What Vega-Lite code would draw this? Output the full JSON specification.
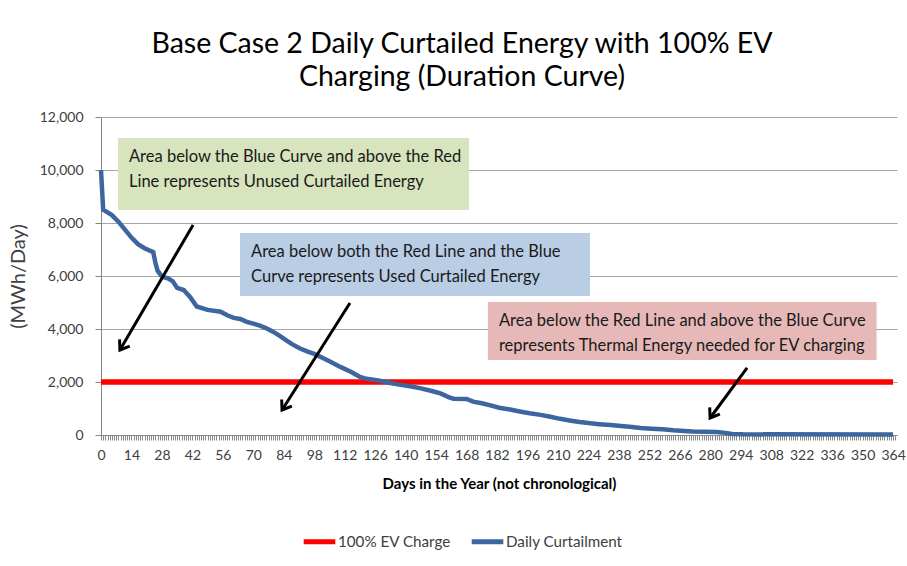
{
  "$schema": "https://vega.github.io/schema/vega-lite/v6.json",
  "width": 796,
  "height": 318,
  "autosize": "none",
  "padding": {"left": 101, "top": 117, "right": 10, "bottom": 131},
  "background": "white",
  "config": {"view": {"stroke": null}, "font": "Lato"},
  "title": {
    "text": ["Base Case 2 Daily Curtailed Energy with 100% EV", "Charging (Duration Curve)"],
    "fontSize": 28.5,
    "font": "Lato",
    "fontWeight": "normal",
    "color": "#000000",
    "anchor": "middle",
    "frame": "group",
    "dx": -37,
    "offset": 19,
    "lineHeight": 33
  },
  "datasets": {
    "series": [
      {"series": "100% EV Charge", "day": 0, "value": 2000},
      {"series": "100% EV Charge", "day": 364, "value": 2000},
      {"series": "Daily Curtailment", "day": 0, "value": 10000},
      {"series": "Daily Curtailment", "day": 1, "value": 8500},
      {"series": "Daily Curtailment", "day": 3, "value": 8400},
      {"series": "Daily Curtailment", "day": 5, "value": 8300},
      {"series": "Daily Curtailment", "day": 8, "value": 8050},
      {"series": "Daily Curtailment", "day": 11, "value": 7750},
      {"series": "Daily Curtailment", "day": 14, "value": 7450},
      {"series": "Daily Curtailment", "day": 17, "value": 7200},
      {"series": "Daily Curtailment", "day": 20, "value": 7050},
      {"series": "Daily Curtailment", "day": 24, "value": 6900},
      {"series": "Daily Curtailment", "day": 25, "value": 6500},
      {"series": "Daily Curtailment", "day": 26, "value": 6200},
      {"series": "Daily Curtailment", "day": 28, "value": 5980},
      {"series": "Daily Curtailment", "day": 31, "value": 5900},
      {"series": "Daily Curtailment", "day": 33, "value": 5800},
      {"series": "Daily Curtailment", "day": 35, "value": 5550},
      {"series": "Daily Curtailment", "day": 38, "value": 5470},
      {"series": "Daily Curtailment", "day": 41, "value": 5200},
      {"series": "Daily Curtailment", "day": 44, "value": 4850},
      {"series": "Daily Curtailment", "day": 49, "value": 4720},
      {"series": "Daily Curtailment", "day": 55, "value": 4650},
      {"series": "Daily Curtailment", "day": 58, "value": 4520},
      {"series": "Daily Curtailment", "day": 61, "value": 4420},
      {"series": "Daily Curtailment", "day": 64, "value": 4380},
      {"series": "Daily Curtailment", "day": 67, "value": 4270},
      {"series": "Daily Curtailment", "day": 70, "value": 4200},
      {"series": "Daily Curtailment", "day": 73, "value": 4130},
      {"series": "Daily Curtailment", "day": 76, "value": 4030},
      {"series": "Daily Curtailment", "day": 79, "value": 3900},
      {"series": "Daily Curtailment", "day": 82, "value": 3750},
      {"series": "Daily Curtailment", "day": 85, "value": 3580},
      {"series": "Daily Curtailment", "day": 88, "value": 3420},
      {"series": "Daily Curtailment", "day": 91, "value": 3280},
      {"series": "Daily Curtailment", "day": 95, "value": 3150},
      {"series": "Daily Curtailment", "day": 98, "value": 3060},
      {"series": "Daily Curtailment", "day": 101, "value": 2940},
      {"series": "Daily Curtailment", "day": 105, "value": 2780},
      {"series": "Daily Curtailment", "day": 110, "value": 2570},
      {"series": "Daily Curtailment", "day": 115, "value": 2380},
      {"series": "Daily Curtailment", "day": 119, "value": 2190},
      {"series": "Daily Curtailment", "day": 122, "value": 2120},
      {"series": "Daily Curtailment", "day": 126, "value": 2080},
      {"series": "Daily Curtailment", "day": 130, "value": 2020},
      {"series": "Daily Curtailment", "day": 133, "value": 1960},
      {"series": "Daily Curtailment", "day": 137, "value": 1900},
      {"series": "Daily Curtailment", "day": 142, "value": 1840},
      {"series": "Daily Curtailment", "day": 147, "value": 1760},
      {"series": "Daily Curtailment", "day": 152, "value": 1660},
      {"series": "Daily Curtailment", "day": 156, "value": 1570},
      {"series": "Daily Curtailment", "day": 160, "value": 1420},
      {"series": "Daily Curtailment", "day": 162, "value": 1370},
      {"series": "Daily Curtailment", "day": 168, "value": 1360},
      {"series": "Daily Curtailment", "day": 171, "value": 1260},
      {"series": "Daily Curtailment", "day": 175, "value": 1200},
      {"series": "Daily Curtailment", "day": 179, "value": 1120},
      {"series": "Daily Curtailment", "day": 183, "value": 1030},
      {"series": "Daily Curtailment", "day": 188, "value": 960},
      {"series": "Daily Curtailment", "day": 193, "value": 880},
      {"series": "Daily Curtailment", "day": 197, "value": 820},
      {"series": "Daily Curtailment", "day": 202, "value": 760},
      {"series": "Daily Curtailment", "day": 206, "value": 700},
      {"series": "Daily Curtailment", "day": 211, "value": 610},
      {"series": "Daily Curtailment", "day": 216, "value": 540},
      {"series": "Daily Curtailment", "day": 220, "value": 490},
      {"series": "Daily Curtailment", "day": 225, "value": 440},
      {"series": "Daily Curtailment", "day": 229, "value": 410},
      {"series": "Daily Curtailment", "day": 234, "value": 380},
      {"series": "Daily Curtailment", "day": 239, "value": 340},
      {"series": "Daily Curtailment", "day": 244, "value": 300},
      {"series": "Daily Curtailment", "day": 248, "value": 265},
      {"series": "Daily Curtailment", "day": 253, "value": 240},
      {"series": "Daily Curtailment", "day": 258, "value": 220},
      {"series": "Daily Curtailment", "day": 263, "value": 180},
      {"series": "Daily Curtailment", "day": 268, "value": 150},
      {"series": "Daily Curtailment", "day": 272, "value": 130},
      {"series": "Daily Curtailment", "day": 277, "value": 120},
      {"series": "Daily Curtailment", "day": 283, "value": 110},
      {"series": "Daily Curtailment", "day": 287, "value": 80},
      {"series": "Daily Curtailment", "day": 290, "value": 40},
      {"series": "Daily Curtailment", "day": 295, "value": 25},
      {"series": "Daily Curtailment", "day": 364, "value": 15}
    ],
    "boxes": [
      {"box": "unused", "x1": 7.8, "x2": 169.1, "y1": 11208, "y2": 8491, "label": ["Area below the Blue Curve and above the Red", "Line represents Unused Curtailed Energy"]},
      {"box": "used", "x1": 63.9, "x2": 224.7, "y1": 7623, "y2": 5246, "label": ["Area below both the Red Line and the Blue", "Curve represents  Used Curtailed Energy"]},
      {"box": "thermal", "x1": 177.8, "x2": 356.4, "y1": 5019, "y2": 2830, "label": ["Area below the Red Line and above the Blue Curve", "represents Thermal Energy needed for EV charging"]}
    ],
    "arrows": [
      {"arrow": "a1", "step": 1, "x": 42.3, "y": 7925},
      {"arrow": "a1", "step": 2, "x": 8.7, "y": 3208},
      {"arrow": "a2", "step": 1, "x": 114.4, "y": 4982},
      {"arrow": "a2", "step": 2, "x": 83.2, "y": 943},
      {"arrow": "a3", "step": 1, "x": 296.9, "y": 2529},
      {"arrow": "a3", "step": 2, "x": 279.9, "y": 642}
    ]
  },
  "layer": [
    {
      "data": {"name": "series"},
      "transform": [{"filter": "datum.series == '100% EV Charge'"}],
      "mark": {"type": "line", "strokeWidth": 5.5},
      "encoding": {
        "x": {
          "field": "day", "type": "quantitative",
          "scale": {"domain": [0, 365.8], "nice": false, "zero": false},
          "axis": {
            "title": "Days in the Year (not chronological)",
            "titleFontSize": 15, "titleFontWeight": "bold", "titleColor": "#000000", "titleFont": "Lato",
            "tickCount": 365, "format": "d",
            "labelExpr": "datum.value % 14 == 0 && datum.value <= 364 ? datum.label : ''",
            "labelOverlap": false, "labelBound": false, "labelFlush": false,
            "grid": false, "domainColor": "#868686", "tickColor": "#8a8a8a", "tickSize": 5,
            "labelPadding": 8, "labelFontSize": 14, "labelColor": "#404040", "labelFont": "Lato",
            "titlePadding": 14
          }
        },
        "y": {
          "field": "value", "type": "quantitative",
          "scale": {"domain": [0, 12000], "nice": false},
          "axis": {
            "title": "(MWh/Day)",
            "values": [0, 2000, 4000, 6000, 8000, 10000, 12000],
            "format": ",.0f", "grid": true, "gridColor": "#a6a6a6",
            "domainColor": "#868686", "tickColor": "#868686", "tickSize": 6,
            "labelPadding": 12, "labelFontSize": 14, "labelColor": "#404040", "labelFont": "Lato",
            "titleFontSize": 20, "titleFontWeight": "normal", "titleColor": "#404040", "titleFont": "Lato",
            "titleX": -73, "titleY": 159
          }
        },
        "color": {
          "field": "series", "type": "nominal",
          "scale": {"domain": ["100% EV Charge", "Daily Curtailment"], "range": ["#FF0000", "#3D66A0"]},
          "legend": {
            "orient": "none", "legendX": 200, "legendY": 406, "direction": "horizontal",
            "title": null, "symbolType": "stroke", "symbolStrokeWidth": 5, "symbolSize": 1000,
            "labelFontSize": 15.2, "labelColor": "#404040", "labelFont": "Lato",
            "columnPadding": 10, "labelOffset": 0, "padding": 0
          }
        }
      }
    },
    {
      "data": {"name": "series"},
      "transform": [{"filter": "datum.series == 'Daily Curtailment'"}],
      "mark": {"type": "line", "strokeWidth": 4.5},
      "encoding": {
        "x": {"field": "day", "type": "quantitative"},
        "y": {"field": "value", "type": "quantitative"},
        "color": {"field": "series", "type": "nominal"}
      }
    },
    {
      "data": {"name": "boxes"},
      "mark": {"type": "rect"},
      "encoding": {
        "x": {"field": "x1", "type": "quantitative"},
        "x2": {"field": "x2"},
        "y": {"field": "y1", "type": "quantitative"},
        "y2": {"field": "y2"},
        "fill": {
          "field": "box", "type": "nominal",
          "scale": {"domain": ["unused", "used", "thermal"], "range": ["#D7E4BD", "#B9CDE5", "#E6B9B8"]},
          "legend": null
        }
      }
    },
    {
      "data": {"name": "boxes"},
      "mark": {"type": "text", "align": "left", "baseline": "top", "dx": 11, "dy": 11, "fontSize": 16.5, "lineHeight": 25, "color": "#1a1a1a", "font": "Lato"},
      "encoding": {
        "x": {"field": "x1", "type": "quantitative"},
        "y": {"field": "y1", "type": "quantitative"},
        "text": {"field": "label", "type": "nominal"}
      }
    },
    {
      "data": {"name": "arrows"},
      "mark": {"type": "line", "strokeWidth": 3, "color": "#000000"},
      "encoding": {
        "x": {"field": "x", "type": "quantitative"},
        "y": {"field": "y", "type": "quantitative"},
        "detail": {"field": "arrow", "type": "nominal"},
        "order": {"field": "step", "type": "quantitative"}
      }
    },
    {
      "data": {"name": "arrows"},
      "transform": [{"filter": "datum.step == 2"}],
      "mark": {"type": "point", "shape": "M-0.7,-1L0,0L0.7,-1", "size": 300, "strokeWidth": 3, "filled": false, "color": "#000000", "angle": 33, "opacity": 1},
      "encoding": {
        "x": {"field": "x", "type": "quantitative"},
        "y": {"field": "y", "type": "quantitative"}
      }
    }
  ]
}
